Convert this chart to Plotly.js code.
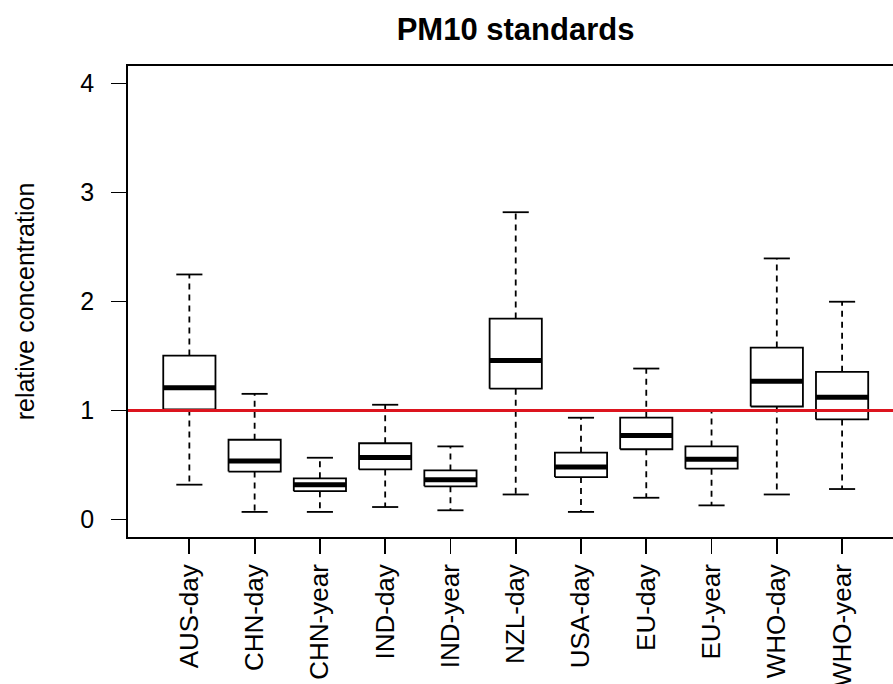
<!DOCTYPE html>
<html>
<head>
<meta charset="utf-8">
<script src="https://cdn.plot.ly/plotly-3.0.1.min.js"></script>
<style>html,body{margin:0;padding:0;overflow:hidden;background:#fff}</style>
</head>
<body>
<div id="chart" style="width:893px;height:684px"></div>
<script>
// ---- data ----
const categories = ['AUS-day','CHN-day','CHN-year','IND-day','IND-year','NZL-day','USA-day','EU-day','EU-year','WHO-day','WHO-year'];
const lowerWhisker = [0.32, 0.07, 0.07, 0.115, 0.085, 0.23, 0.07, 0.20, 0.13, 0.23, 0.28];
const q1           = [1.01, 0.44, 0.26, 0.46, 0.305, 1.20, 0.39, 0.645, 0.467, 1.037, 0.918];
const median       = [1.21, 0.537, 0.32, 0.57, 0.366, 1.458, 0.482, 0.772, 0.552, 1.269, 1.122];
const q3           = [1.504, 0.732, 0.378, 0.70, 0.451, 1.843, 0.613, 0.934, 0.671, 1.577, 1.355];
const upperWhisker = [2.248, 1.153, 0.567, 1.053, 0.671, 2.819, 0.934, 1.385, 0.995, 2.395, 1.998];
const yTicks = [0, 1, 2, 3, 4];
const referenceLevel = 1;

// ---- build geometry from data ----
const halfBox = 0.4, halfCap = 0.2;
const pos = categories.map((c, i) => i + 1);
const bx = [], by = [], mx = [], my = [], wx = [], wy = [], cx = [], cy = [];
pos.forEach((p, i) => {
  bx.push(p - halfBox, p + halfBox, p + halfBox, p - halfBox, p - halfBox, null);
  by.push(q1[i], q1[i], q3[i], q3[i], q1[i], null);
  mx.push(p - halfBox, p + halfBox, null);
  my.push(median[i], median[i], null);
  wx.push(p, p, null, p, p, null);
  wy.push(q3[i], upperWhisker[i], null, q1[i], lowerWhisker[i], null);
  cx.push(p - halfCap, p + halfCap, null, p - halfCap, p + halfCap, null);
  cy.push(upperWhisker[i], upperWhisker[i], null, lowerWhisker[i], lowerWhisker[i], null);
});

const font = 'Liberation Sans, Arial, Helvetica, sans-serif';
const traces = [
  {x: wx, y: wy, mode: 'lines', line: {color: '#000', width: 1.8, dash: '6px,5px'}, hoverinfo: 'skip'},
  {x: cx, y: cy, mode: 'lines', line: {color: '#000', width: 1.8}, hoverinfo: 'skip'},
  {x: bx, y: by, mode: 'lines', line: {color: '#000', width: 1.8}, hoverinfo: 'skip'},
  {x: mx, y: my, mode: 'lines', line: {color: '#000', width: 5}, hoverinfo: 'skip'}
];

const layout = {
  width: 893, height: 684,
  margin: {l: 128, r: 0, t: 66, b: 147, pad: 0},
  paper_bgcolor: '#fff', plot_bgcolor: '#fff',
  showlegend: false,
  font: {family: font, color: '#000', size: 25},
  title: {
    text: 'PM10 standards',
    font: {family: font, size: 31, weight: 'bold', color: '#000'},
    x: 0.5066, xanchor: 'center', xref: 'paper',
    y: 1 - 29 / 684, yanchor: 'middle', yref: 'container'
  },
  xaxis: {
    range: [0.06, 11.78], tickmode: 'array', tickvals: pos, ticktext: categories,
    tickangle: -90, ticks: 'outside', ticklen: 15, tickwidth: 1.8, tickcolor: '#000',
    showline: true, mirror: true, linecolor: '#000', linewidth: 1.8,
    showgrid: false, zeroline: false, ticklabelstandoff: 0,
    tickfont: {family: font, size: 26, color: '#000'}, fixedrange: true
  },
  yaxis: {
    range: [-0.16, 4.16], tickmode: 'array', tickvals: yTicks, ticktext: yTicks.map(String),
    ticks: 'outside', ticklen: 15, tickwidth: 1.8, tickcolor: '#000',
    showline: true, mirror: false, linecolor: '#000', linewidth: 1.8,
    showgrid: false, zeroline: false, ticklabelstandoff: 12,
    tickfont: {family: font, size: 25, color: '#000'},
    title: {text: 'relative concentration', font: {family: font, size: 25, color: '#000'}, standoff: 38},
    fixedrange: true
  },
  shapes: [{
    type: 'line', xref: 'paper', x0: 0, x1: 1, yref: 'y', y0: referenceLevel, y1: referenceLevel,
    line: {color: 'rgb(220,20,30)', width: 3}, layer: 'above'
  }]
};

Plotly.newPlot('chart', traces, layout, {displayModeBar: false, staticPlot: true});
</script>
</body>
</html>
